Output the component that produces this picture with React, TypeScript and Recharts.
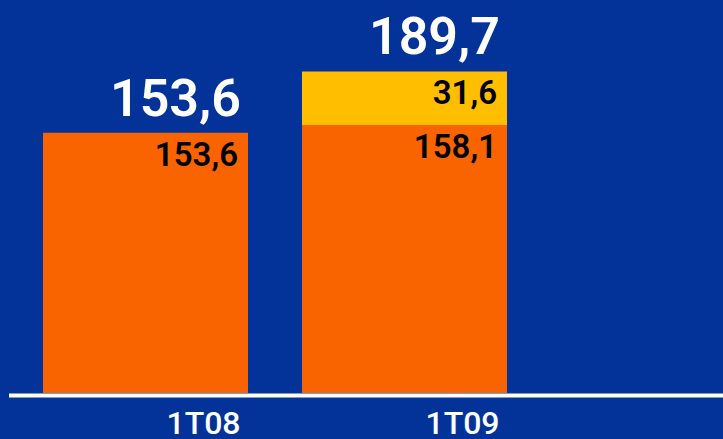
import { BarChart, Bar, XAxis, YAxis, LabelList } from 'recharts';

const categories = ['1T08', '1T09'];
const baseValues = [153.6, 158.1];
const extraValues = [0, 31.6];
const totals = [153.6, 189.7];

// total goes on whichever segment is on top of the stack
const data = categories.map((period, i) => ({
  period,
  base: baseValues[i],
  extra: extraValues[i],
  baseTotal: extraValues[i] ? null : totals[i],
  extraTotal: extraValues[i] ? totals[i] : null,
}));

const BG = '#033399';
const FONT = 'Roboto, "Noto Sans", sans-serif';

const fmt = (v: number) => v.toFixed(1).replace('.', ',');

const InsideLabel = ({ x, y, width, value }: any) => {
  if (!value) return null;
  return (
    <text x={x + width - 10} y={y + 33} textAnchor="end" fill="#000" fontSize={33} fontWeight={600} fontFamily={FONT}>
      {fmt(value)}
    </text>
  );
};

const TotalLabel = ({ x, y, width, value }: any) => {
  if (value == null) return null;
  return (
    <text x={x + width - 7} y={y - 17} textAnchor="end" fill="#fff" fontSize={52} fontWeight={600} fontFamily={FONT}>
      {fmt(value)}
    </text>
  );
};

const PeriodTick = ({ x, y, payload }: any) => (
  <text x={x + 58} y={y + 41} textAnchor="middle" fill="#fff" fontSize={32} fontWeight={500} fontFamily={FONT}>
    {payload.value}
  </text>
);

export default function App() {
  return (
    <div style={{ width: 723, height: 439, background: BG }}>
      <style>{`body{margin:0}`}</style>
      <BarChart
        width={723}
        height={439}
        data={data}
        margin={{ top: 54, right: 0, left: 9, bottom: 0 }}
        barSize={205}
      >
        <XAxis
          dataKey="period"
          height={46}
          padding={{ left: 7, right: 189 }}
          tickLine={false}
          tickSize={0}
          tickMargin={0}
          axisLine={{ stroke: '#fff', strokeWidth: 4, transform: 'translate(0 2.5)' }}
          tick={<PeriodTick />}
        />
        <YAxis hide domain={[0, 200]} />
        <Bar dataKey="base" stackId="a" fill="#FA6400" isAnimationActive={false}>
          <LabelList dataKey="base" content={<InsideLabel />} />
          <LabelList dataKey="baseTotal" content={<TotalLabel />} />
        </Bar>
        <Bar dataKey="extra" stackId="a" fill="#FFBE00" isAnimationActive={false}>
          <LabelList dataKey="extra" content={<InsideLabel />} />
          <LabelList dataKey="extraTotal" content={<TotalLabel />} />
        </Bar>
      </BarChart>
    </div>
  );
}
